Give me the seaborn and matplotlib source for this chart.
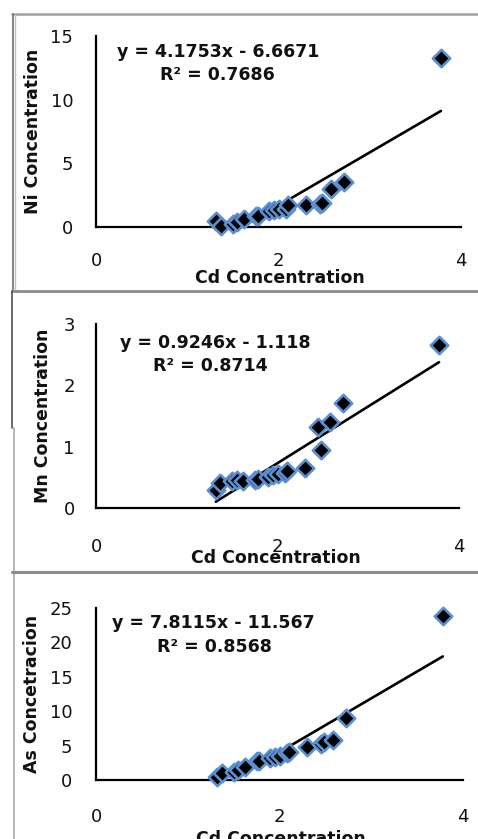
import numpy as np
import matplotlib
matplotlib.use("Agg")
import matplotlib.pyplot as plt
from matplotlib.lines import Line2D
import seaborn as sns

# ---------------- data ----------------
cd = [1.32, 1.37, 1.50, 1.55, 1.62, 1.75, 1.78, 1.90, 1.95, 2.00, 2.08, 2.10,
      2.30, 2.45, 2.48, 2.58, 2.72, 3.78]
ni = [0.45, 0.05, 0.25, 0.40, 0.65, 0.85, 0.90, 1.25, 1.35, 1.45, 1.45, 1.75,
      1.75, 1.80, 1.85, 3.00, 3.55, 13.25]
mn = [0.29, 0.40, 0.44, 0.46, 0.44, 0.46, 0.48, 0.51, 0.53, 0.55, 0.57, 0.60,
      0.65, 1.32, 0.95, 1.41, 1.72, 2.66]
as_ = [0.5, 1.0, 1.2, 1.5, 1.9, 2.7, 2.8, 3.2, 3.4, 3.5, 3.9, 4.0,
       4.8, 5.3, 5.5, 5.8, 9.0, 23.8]

slopes = [4.1753, 0.9246, 7.8115]
intercepts = [-6.6671, -1.118, -11.567]
r2 = [0.7686, 0.8714, 0.8568]

ylabels = ["Ni Concentration", "Mn Concentration", "As Concetracion"]
xlabel = "Cd Concentration"
ylims = [(0, 15), (0, 3), (0, 25)]
yticks = [[0, 5, 10, 15], [0, 1, 2, 3], [0, 5, 10, 15, 20, 25]]
xticks = [0, 2, 4]

# ---------------- style ----------------
sns.set_theme(style="white")
plt.rcParams["font.family"] = ["DejaVu Sans"]

W, H = 478, 839
fig = plt.figure(figsize=(W / 100, H / 100), dpi=100)
fig.patch.set_facecolor("white")

def px_axes(left, right, bottom, top):
    return [left / W, 1 - bottom / H, (right - left) / W, (bottom - top) / H]

# pixel geometry of each panel's plot area
geo = [
    dict(rect=px_axes(96, 461, 227, 36), ticklen=4.3, xpad=13.5, ypad=12,
         xl=(0.504, -0.265), yl=(-0.1726, 0.503),
         eq1=(0.334, 0.916), eq2=(0.333, 0.796)),
    dict(rect=px_axes(96, 459, 508, 324), ticklen=4.3, xpad=17, ypad=11,
         xl=(0.495, -0.272), yl=(-0.146, 0.501),
         eq1=(0.328, 0.897), eq2=(0.314, 0.772)),
    dict(rect=px_axes(96, 463, 780, 608), ticklen=0, xpad=20, ypad=17,
         xl=(0.504, -0.345), yl=(-0.174, 0.50),
         eq1=(0.319, 0.913), eq2=(0.322, 0.773)),
]

series = [ni, mn, as_]

for i, (g, yv) in enumerate(zip(geo, series)):
    ax = fig.add_axes(g["rect"])
    ax.set_facecolor("white")
    sns.scatterplot(x=cd, y=yv, ax=ax, marker="D", s=78, color="black",
                    edgecolor="#5B8FD0", linewidth=1.9, clip_on=False, zorder=3)
    xf = np.array([min(cd), max(cd)])
    yf = slopes[i] * xf + intercepts[i]
    sns.lineplot(x=xf, y=yf, ax=ax, color="black", linewidth=1.9, zorder=2)

    ax.set_xlim(0, 4)
    ax.set_ylim(*ylims[i])
    ax.set_xticks(xticks)
    ax.set_yticks(yticks[i])
    for s in ["top", "right"]:
        ax.spines[s].set_visible(False)
    for s in ["left", "bottom"]:
        ax.spines[s].set_color("black")
        ax.spines[s].set_linewidth(1.6)
        ax.spines[s].set_zorder(1)
    ax.tick_params(axis="x", direction="out", length=g["ticklen"], width=1.6,
                   color="black", pad=g["xpad"], labelsize=13, labelcolor="#111111")
    ax.tick_params(axis="y", direction="out", length=g["ticklen"], width=1.6,
                   color="black", pad=g["ypad"], labelsize=13, labelcolor="#111111")
    ax.grid(False)

    ax.set_xlabel(xlabel, fontsize=12.5, fontweight="bold", color="#111111",
                  va="center")
    ax.xaxis.set_label_coords(*g["xl"])
    ax.set_ylabel(ylabels[i], fontsize=12.5, fontweight="bold", color="#111111",
                  va="center")
    ax.yaxis.set_label_coords(*g["yl"])

    eq = f"y = {slopes[i]:.5g}x - {abs(intercepts[i]):.5g}"
    rr = f"R² = {r2[i]:.4f}"
    ax.text(*g["eq1"], eq, transform=ax.transAxes, ha="center", va="center",
            fontsize=12.5, fontweight="bold", color="#111111")
    ax.text(*g["eq2"], rr, transform=ax.transAxes, ha="center", va="center",
            fontsize=12.5, fontweight="bold", color="#111111")

# ---------------- panel frames ----------------
def fline(x0, y0, x1, y1, color="#9a9a9a", lw=1.6):
    fig.add_artist(Line2D([x0 / W, x1 / W], [1 - y0 / H, 1 - y1 / H],
                          transform=fig.transFigure, color=color, lw=lw))

fline(12, 14, W, 14, color="#a0a0a0", lw=1.8)
fline(12.5, 14, 12.5, 290, color="#707070", lw=1.2)
fline(15, 14, 15, 290, color="#c0c0c0", lw=1.0)
fline(12, 291, W, 291, color="#8c8c8c", lw=2.0)
fline(12, 291, 12, 428, color="#505050", lw=1.2)
fline(13.5, 428, 13.5, H, color="#a8a8a8", lw=1.2)
fline(12, 572, W, 572, color="#8c8c8c", lw=2.2)

fig.savefig("out.png", dpi=100, facecolor="white")
